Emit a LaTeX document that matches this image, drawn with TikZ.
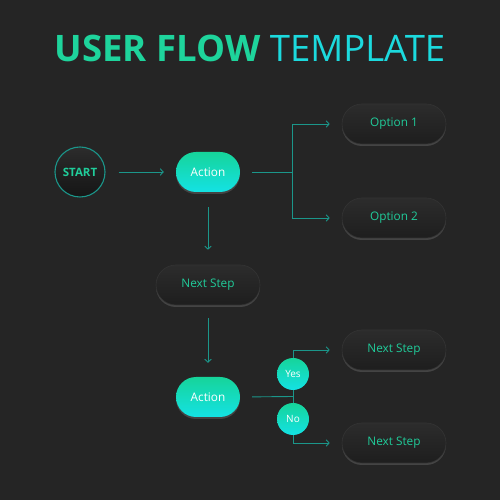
\documentclass[tikz,border=0pt]{standalone}
\usepackage{fontspec}
\setmainfont{Open Sans}
\usetikzlibrary{arrows.meta,shadows}
\definecolor{bgc}{RGB}{37,37,37}
\definecolor{tgreen}{RGB}{30,212,156}
\definecolor{tcyan}{RGB}{28,218,222}
\definecolor{linec}{RGB}{27,150,138}
\definecolor{txtg}{RGB}{32,204,154}
\definecolor{gtop}{RGB}{22,212,154}
\definecolor{gbot}{RGB}{20,226,228}
\definecolor{dtop}{RGB}{44,44,44}
\definecolor{dbot}{RGB}{30,30,30}
\definecolor{dedge}{RGB}{52,52,52}
\tikzset{
  pill/.style={rectangle, rounded corners=20pt, minimum height=40pt, inner sep=0pt, font=\fontsize{11.8}{13}\selectfont},
  darkpill/.style={pill, minimum width=104pt, top color=dtop, bottom color=dbot, draw=dedge, line width=0.6pt, text=txtg,
     drop shadow={opacity=0.35, shadow xshift=0pt, shadow yshift=-2pt}},
  actpill/.style={pill, minimum width=64pt, top color=gtop, bottom color=gbot, text=white,
     drop shadow={opacity=0.35, shadow xshift=0pt, shadow yshift=-2pt}},
  decis/.style={circle, minimum size=32pt, inner sep=0pt, top color=gtop, bottom color=gbot, text=white, font=\fontsize{10}{12}\selectfont},
  conn/.style={draw=linec, line width=0.9pt},
  arr/.style={conn, -{Straight Barb[length=3pt, width=6.5pt, line width=0.9pt]}},
}
\begin{document}
\begin{tikzpicture}[x=1pt,y=1pt]
\fill[bgc] (0,0) rectangle (500,500);
\useasboundingbox (0,0) rectangle (500,500);
% title
\node[anchor=base, inner sep=0pt, font=\fontsize{36.5}{40}\selectfont] (title) at (250,438)
  {{\bfseries\color{tgreen}USER FLOW} {\color{tcyan}TEMPLATE}};
% nodes
\node[circle, minimum size=50pt, inner sep=0pt, draw=linec, line width=1.1pt, top color=dtop, bottom color=dbot!70!black,
      text=txtg, font=\bfseries\fontsize{11.5}{13}\selectfont] (start) at (80,328) {START};
\node[actpill] (a1) at (208,328) {Action};
\node[darkpill] (o1) at (394,376) {Option 1};
\node[darkpill] (o2) at (394,282) {Option 2};
\node[darkpill] (ns) at (208,215) {Next Step};
\node[actpill] (a2) at (208,103) {Action};
\node[darkpill] (n1) at (394,150) {Next Step};
\node[darkpill] (n2) at (394,57) {Next Step};
\node[decis] (yes) at (293,126) {Yes};
\node[decis] (no) at (293,81) {No};
\coordinate (b1) at (292,328);
\coordinate (b2) at (293,103.5);
% connectors
\draw[arr, shorten <=13pt, shorten >=12pt] (start) -- (a1);
\draw[conn, shorten <=12pt] (a1.east) -- (b1);
\draw[arr, shorten >=12pt] (b1) |- (o1.west);
\draw[arr, shorten >=12pt] (b1) |- (o2.west);
\draw[arr, shorten <=15pt, shorten >=15pt] (a1.south) -- (ns.north);
\draw[arr, shorten <=13pt, shorten >=14pt] (ns.south) -- (a2.north);
\draw[conn, shorten <=12pt] (a2.east) -- (b2);
\draw[conn] (yes.south) -- (no.north);
\draw[arr, shorten >=12pt] (yes.north) |- (n1.west);
\draw[arr, shorten >=12pt] (no.south) |- (n2.west);
\end{tikzpicture}
\end{document}
